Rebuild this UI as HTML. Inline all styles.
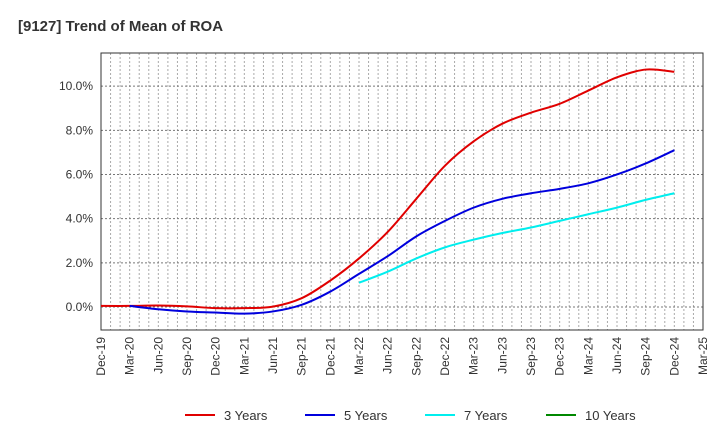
<!DOCTYPE html>
<html><head><meta charset="utf-8"><style>
body{margin:0;background:#fff;font-family:"Liberation Sans",sans-serif}
</style></head><body>
<svg id="c" width="720" height="440" xmlns="http://www.w3.org/2000/svg" font-family="Liberation Sans, sans-serif">
<text x="18" y="31" font-size="15" font-weight="bold" fill="#333">[9127]  Trend of Mean of ROA</text>
<g id="grid"></g><g id="axes"></g><g id="series"></g><g id="legend"></g>
</svg>
<script>
const xLabels=["Dec-19","Mar-20","Jun-20","Sep-20","Dec-20","Mar-21","Jun-21","Sep-21","Dec-21","Mar-22","Jun-22","Sep-22","Dec-22","Mar-23","Jun-23","Sep-23","Dec-23","Mar-24","Jun-24","Sep-24","Dec-24","Mar-25"];
const yTicks=[0,2,4,6,8,10];
const yTickLabels=["0.0%","2.0%","4.0%","6.0%","8.0%","10.0%"];
const seriesNames=["3 Years","5 Years","7 Years","10 Years"];
const seriesColors=["#e00000","#0000dd","#00eeee","#008800"];
const s3=[0.05,0.05,0.07,0.03,-0.05,-0.05,0.02,0.4,1.2,2.2,3.4,4.9,6.4,7.5,8.3,8.8,9.2,9.8,10.4,10.75,10.65];
const s3start=0;
const s5=[0.05,-0.1,-0.2,-0.25,-0.3,-0.2,0.1,0.7,1.5,2.3,3.2,3.9,4.5,4.9,5.15,5.35,5.6,6.0,6.5,7.1];
const s5start=1;
const s7=[1.1,1.6,2.2,2.7,3.05,3.35,3.6,3.9,4.2,4.5,4.85,5.15];
const s7start=9;
const s10=[];
const s10start=0;

const L=101,R=703,T=53,B=330,ymin=-1.04,ymax=11.5;
const X=q=>L+q*(R-L)/(xLabels.length-1);
const Y=v=>B-(v-ymin)*(B-T)/(ymax-ymin);
const NS="http://www.w3.org/2000/svg";
function mk(tag,parent,attrs){const e=document.createElementNS(NS,tag);for(const k in attrs)e.setAttribute(k,attrs[k]);parent.appendChild(e);return e;}
const grid=document.getElementById('grid'),axes=document.getElementById('axes'),ser=document.getElementById('series'),leg=document.getElementById('legend');
for(let m=1;m<(xLabels.length-1)*3;m++){const x=L+m*(R-L)/((xLabels.length-1)*3);
const g=mk('line',grid,{x1:x,x2:x,y1:T,y2:B,stroke:'#aaa','stroke-dasharray':'2,2','stroke-width':1});

}
yTicks.forEach((v,i)=>{const y=Y(v);
const g=mk('line',grid,{x1:L,x2:R,y1:y,y2:y,stroke:'#777','stroke-dasharray':'2,2','stroke-width':1});


const t=mk('text',axes,{x:L-8,y:y+4,'text-anchor':'end','font-size':12,fill:'#333'});t.textContent=yTickLabels[i];

});
const fr=mk('rect',axes,{x:L,y:T,width:R-L,height:B-T,fill:'none',stroke:'#333','stroke-width':1});


xLabels.forEach((lb,i)=>{const x=X(i);
const t=mk('text',axes,{x:0,y:0,'text-anchor':'end','font-size':12,fill:'#333',transform:`translate(${x+4},${B+7}) rotate(-90)`});t.textContent=lb;

});
function path(vals,start){const p=vals.map((v,i)=>[X(start+i),Y(v)]);if(!p.length)return '';
let d=`M${p[0][0]},${p[0][1]}`;
for(let i=0;i<p.length-1;i++){const p0=p[i-1]||p[i],p1=p[i],p2=p[i+1],p3=p[i+2]||p2;
d+=` C${p1[0]+(p2[0]-p0[0])/6},${p1[1]+(p2[1]-p0[1])/6} ${p2[0]-(p3[0]-p1[0])/6},${p2[1]-(p3[1]-p1[1])/6} ${p2[0]},${p2[1]}`;}
return d;}
[[s3,s3start],[s5,s5start],[s7,s7start],[s10,s10start]].forEach((s,i)=>{if(!s[0].length)return;
const p=mk('path',ser,{d:path(s[0],s[1]),fill:'none',stroke:seriesColors[i],'stroke-width':2});

});
const lx=[185,305,425,546];
seriesNames.forEach((n,i)=>{
const g=mk('g',leg,{});


mk('line',g,{x1:lx[i],x2:lx[i]+30,y1:415,y2:415,stroke:seriesColors[i],'stroke-width':2});
const t=mk('text',g,{x:lx[i]+39,y:420,'font-size':13,fill:'#333'});t.textContent=n;});
</script>
</body></html>
